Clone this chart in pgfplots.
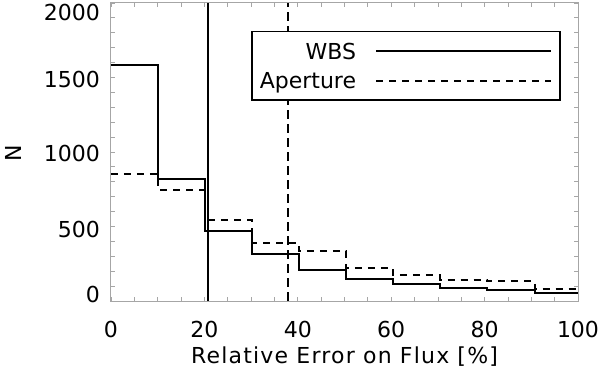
\documentclass[border=0pt]{standalone}
\usepackage{fontspec}
\setmainfont{DejaVu Sans}
\newfontfamily\labelfont[LetterSpace=5.5]{DejaVu Sans}
\usepackage{pgfplots}
\pgfplotsset{compat=1.18}
\begin{document}
\fontsize{22bp}{26bp}\selectfont
\begin{tikzpicture}
\begin{axis}[
 at={(0,0)}, anchor=south west,
 width=467bp, height=298bp, scale only axis,
 xmin=0, xmax=100, ymin=0, ymax=2000,
 xtick={0,20,...,100}, minor x tick num=3,
 ytick={0,500,...,2000}, minor y tick num=4,
 tick align=inside,
 major tick length=4bp, minor tick length=4bp,
 tick style={gray!70, line width=0.8bp},
 axis line style={gray!70, line width=1bp},
 /pgf/number format/assume math mode=true,
 xticklabel style={anchor=north, inner sep=0pt, yshift=-20bp},
 yticklabel style={anchor=east, inner sep=0pt, xshift=-11bp},
 yticklabel={\ifcase\ticknum \raisebox{-1bp}[0pt][0pt]{0}\or\raisebox{-10.8bp}[0pt][0pt]{500}\or\raisebox{-9.8bp}[0pt][0pt]{1000}\or\raisebox{-9.8bp}[0pt][0pt]{1500}\or\raisebox{-17.3bp}[0pt][0pt]{2000}\fi},
 xlabel={\labelfont Relative Error on Flux [\%]},
 xlabel style={at={(axis description cs:0.5,-0.2114)}, anchor=base, inner sep=0pt},
 ylabel={N},
 ylabel style={at={(axis description cs:-0.1927,0.4966)}, anchor=base, inner sep=0pt},
 legend plot pos=right,
 legend cell align=right,
 legend image code/.code={\path (0bp,0bp) -- (175bp,0bp); \draw[#1] (0bp,0bp) -- (156bp,0bp);},
 legend style={at={(0.2998,0.907)}, anchor=north west, draw=black, line width=1.6bp,
   inner xsep=8bp, inner ysep=4.8bp, row sep=0pt, column sep=19bp,
   nodes={inner sep=0pt, text height=22.75bp, text depth=6.75bp}},
]
\addplot[black, line width=2bp, const plot, forget plot] coordinates {
 (0,1585) (10.1,819) (20.1,472) (30.2,313) (40.3,208) (50.4,146) (60.4,117) (70.5,87) (80.6,76) (90.7,54) (100,54)};
\addplot[black, line width=2bp, const plot, dash pattern=on 7bp off 6bp, forget plot] coordinates {
 (0,850) (10.1,745) (20.1,544) (30.2,387) (40.3,333) (50.4,219) (60.4,172) (70.5,143) (80.6,132) (90.7,83) (100,83)};
\addplot[black, line width=2bp, forget plot] coordinates {(20.8,0) (20.8,2000)};
\addplot[black, line width=2bp, dash pattern=on 9bp off 5bp, forget plot] coordinates {(37.8,0) (37.8,2000)};
\addlegendimage{black, line width=2bp}
\addlegendentry{WBS}
\addlegendimage{black, line width=2bp, dash pattern=on 7bp off 6bp}
\addlegendentry{Aperture}
\end{axis}
\pgfresetboundingbox
\path[use as bounding box] (-111bp,-73bp) rectangle (489bp,301bp);
\end{tikzpicture}
\end{document}
